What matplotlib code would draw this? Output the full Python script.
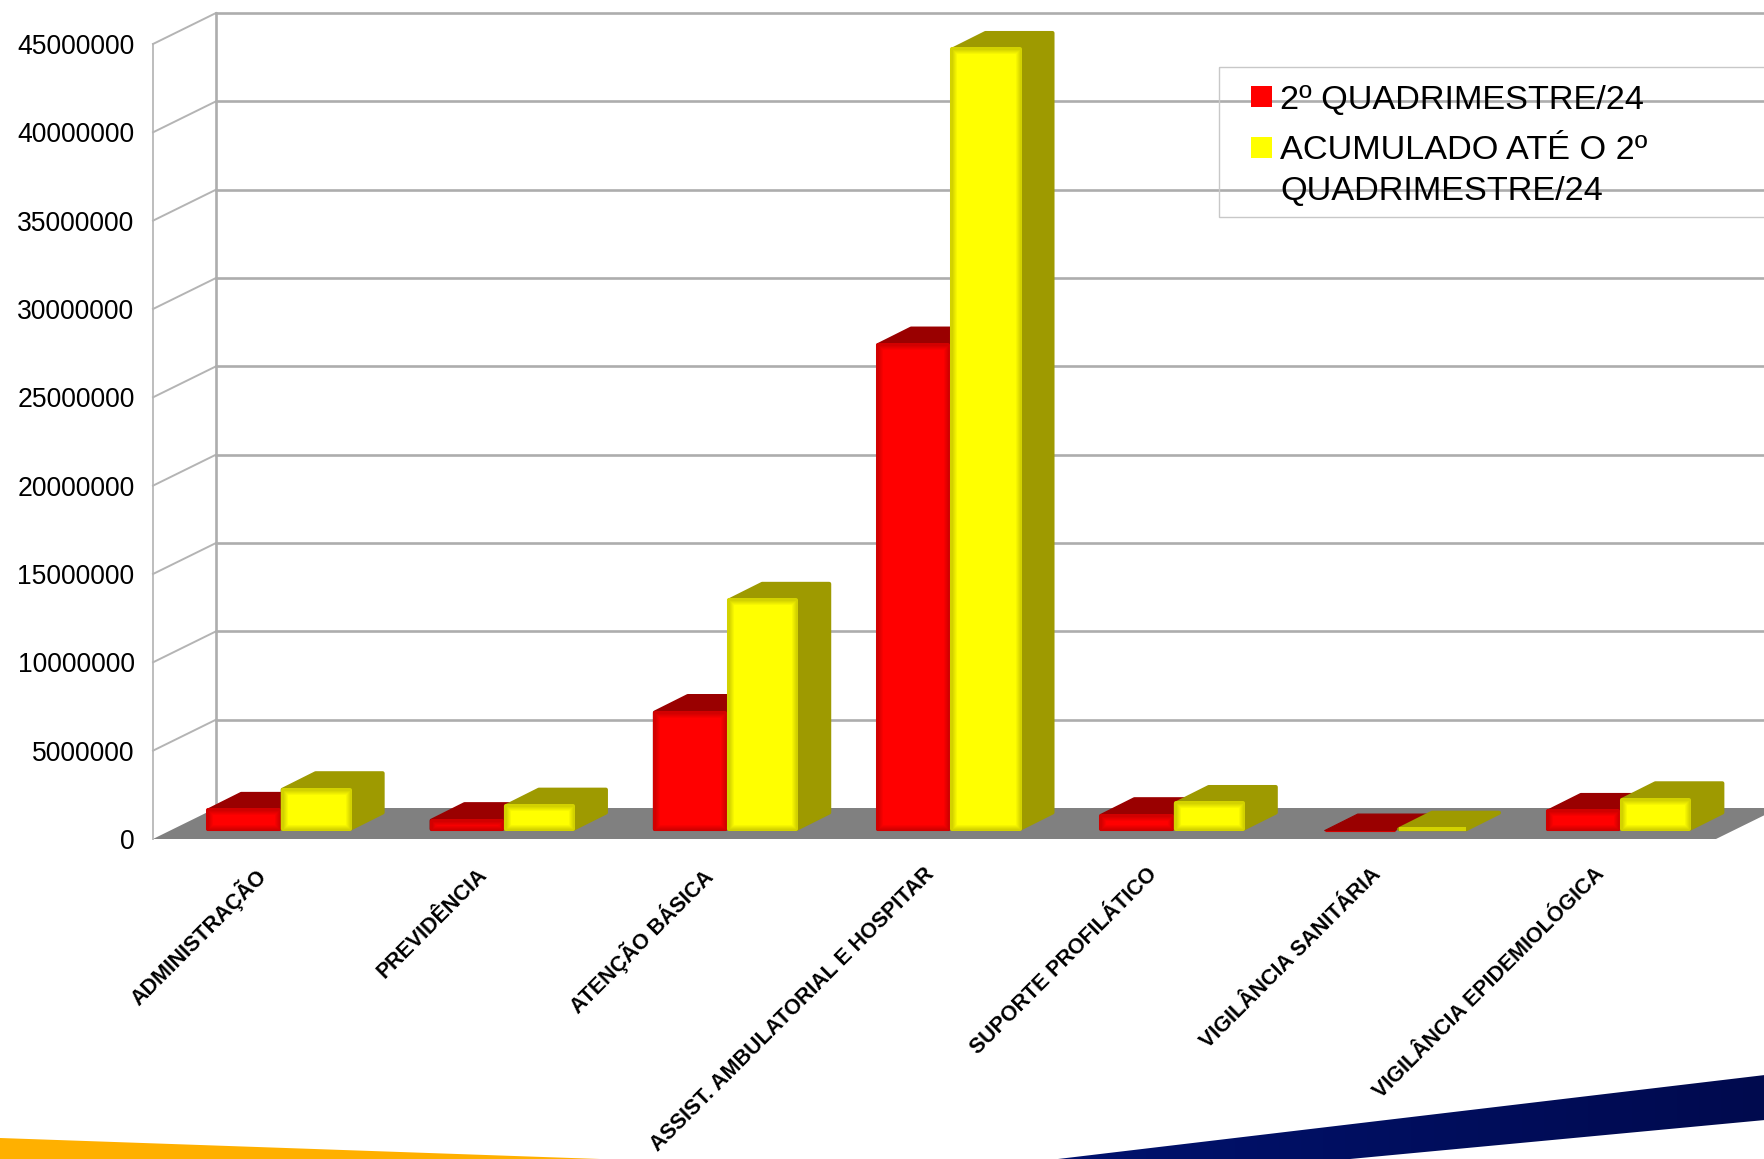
import numpy as np
import matplotlib
matplotlib.use('Agg')
import matplotlib.pyplot as plt
from matplotlib.patches import Polygon, Rectangle
from matplotlib.colors import to_rgb, LinearSegmentedColormap
from matplotlib.transforms import ScaledTranslation

plt.rcParams['font.family'] = ['Liberation Sans', 'DejaVu Sans']

categories = ['ADMINISTRAÇÃO', 'PREVIDÊNCIA', 'ATENÇÃO BÁSICA',
              'ASSIST. AMBULATORIAL E HOSPITAR', 'SUPORTE PROFILÁTICO',
              'VIGILÂNCIA SANITÁRIA', 'VIGILÂNCIA EPIDEMIOLÓGICA']
quad = [1280000, 700000, 6820000, 27620000, 980000, 50000, 1220000]
acum = [2450000, 1520000, 13170000, 44350000, 1670000, 200000, 1880000]
y_ticks = list(range(0, 45000001, 5000000))
legend_labels = ['2º QUADRIMESTRE/24', 'ACUMULADO ATÉ O 2º\nQUADRIMESTRE/24']

W, H = 1765, 1159
fig = plt.figure(figsize=(W / 100, H / 100), dpi=100, facecolor='white')

# full figure axes in pixels, for the slide decoration and the legend
deco = fig.add_axes([0, 0, 1, 1], zorder=0)
deco.axis('off')
pix = deco.transData

deco.add_patch(Polygon([(0, 1138), (600, 1159), (0, 1159)], color='#ffb000', lw=0))
navy = Polygon([(1058, 1159), (1765, 1075), (1765, 1120), (1350, 1159)], color='none', lw=0)
deco.add_patch(navy)
grad = np.array([np.linspace(0, 1, 64)])
im = deco.imshow(grad, extent=(1058, 1765, 1159, 1075), aspect='auto',
                 cmap=LinearSegmentedColormap.from_list('n', ['#00126e', '#000a4e']))
im.set_clip_path(navy)
deco.set_xlim(0, W)
deco.set_ylim(H, 0)

# front plane of the chart box
ax = fig.add_axes([153 / W, (H - 839) / H, 1563 / W, 795 / H], zorder=1)
ax.patch.set_visible(False)
ax.set_xlim(0, 7)
ax.set_ylim(0, 45000000)
for s in ax.spines.values():
    s.set_visible(False)

px_x = 7 / 1563
px_y = 45000000 / 795
depth_x = 63 * px_x
depth_y = 31 * px_y

wall = '#adadad'
ax.add_patch(Polygon([(0, 0), (7, 0), (7 + depth_x, depth_y), (depth_x, depth_y)], closed=True,
                     color='#808080', lw=0, clip_on=False, zorder=1))

# walls and gridlines
ax.plot([0, 0], [0, 45000000], color='#bdbdbd', lw=1.4, clip_on=False, zorder=2)
ax.plot([depth_x, depth_x], [depth_y, 45000000 + depth_y], color=wall, lw=1.9, clip_on=False, zorder=2)
for v in y_ticks:
    if v > 0:
        ax.plot([0, depth_x], [v, v + depth_y], color='#b4b4b4', lw=1.4, clip_on=False, zorder=2)
        ax.plot([depth_x, 8], [v + depth_y, v + depth_y], color=wall, lw=1.9, clip_on=False, zorder=2)


def draw_bar(left, width, value, face, side, z):
    fx = 16 * px_x
    fy = 8 * px_y
    bx = 33 * px_x
    by = 16.5 * px_y
    # stroke of 4 px gives the rounded corners, so keep the outline 2 px inside
    ix0 = 2 * px_x
    iy0 = 2 * px_y
    x0, x1 = left + fx + ix0, left + fx + width - ix0
    bot = fy + min(iy0, value / 2)
    top = fy + max(value - iy0, value / 2)
    lw = 2.9 if value > 100000 else 0.8
    ax.add_patch(Polygon([(x0, top), (x0 + bx, top + by), (x1 + bx, top + by), (x1 + bx, bot + by),
                          (x1, bot), (x0, bot)], closed=True, facecolor=side, edgecolor=side,
                         lw=lw, joinstyle='round', clip_on=False, zorder=z))
    # soft darker rim on the front face
    f = np.array(to_rgb(face))
    rim = np.array(to_rgb(side)) * 0.45 + f * 0.55
    steps = 6
    for i in range(steps):
        t = i / (steps - 1)
        col = rim * (1 - t) + f * t
        ix = i * px_x
        iy = i * px_y
        h = top - bot - 2 * iy
        if h <= 0 and i > 0:
            break
        ax.add_patch(Rectangle((x0 + ix, bot + iy), x1 - x0 - 2 * ix, h, facecolor=col, edgecolor=col,
                               lw=lw if i == 0 else 0.8, joinstyle='round', clip_on=False,
                               zorder=z + 0.1 * (i + 1)))


red_w = 0.333
yellow_w = 0.318
for i in range(len(categories)):
    c = i + 0.5
    draw_bar(c - red_w, red_w, quad[i], '#ff0000', '#9a0000', 3 + 2 * i)
    draw_bar(c, yellow_w, acum[i], '#ffff00', '#9e9a00', 4 + 2 * i)

ax.set_yticks(y_ticks)
ax.set_yticklabels([str(v) for v in y_ticks], fontsize=19.1, color='black')
ax.tick_params(axis='y', length=0, pad=13.3)
ax.set_xticks(np.arange(len(categories)) + 0.5)
ax.set_xticklabels(categories, fontsize=15.5, fontweight='bold', rotation=45, ha='right',
                   va='top', rotation_mode='anchor', color='black')
ax.tick_params(axis='x', length=0, pad=18)
shift = ScaledTranslation(-11 / 100, 0, fig.dpi_scale_trans)
for lab in ax.get_xticklabels():
    lab.set_transform(lab.get_transform() + shift)

# legend, its box runs off the right edge of the slide
ax.add_patch(Rectangle((1219, 67), 700, 150, transform=pix, facecolor='none', edgecolor='#c8c8c8',
                       lw=1.0, clip_on=False, zorder=30))
ax.add_patch(Rectangle((1251, 86), 21, 21, transform=pix, facecolor='#ff0000', edgecolor='none', zorder=31))
ax.add_patch(Rectangle((1251, 137), 21, 21, transform=pix, facecolor='#ffff00', edgecolor='none', zorder=31))
ax.text(1280, 109, legend_labels[0], transform=pix, fontsize=24.7, color='black', va='baseline', zorder=32)
ax.text(1280, 200, legend_labels[1], transform=pix, fontsize=24.7, color='black', va='baseline',
        linespacing=1.4, zorder=32)

fig.savefig('out.png', dpi=100)
